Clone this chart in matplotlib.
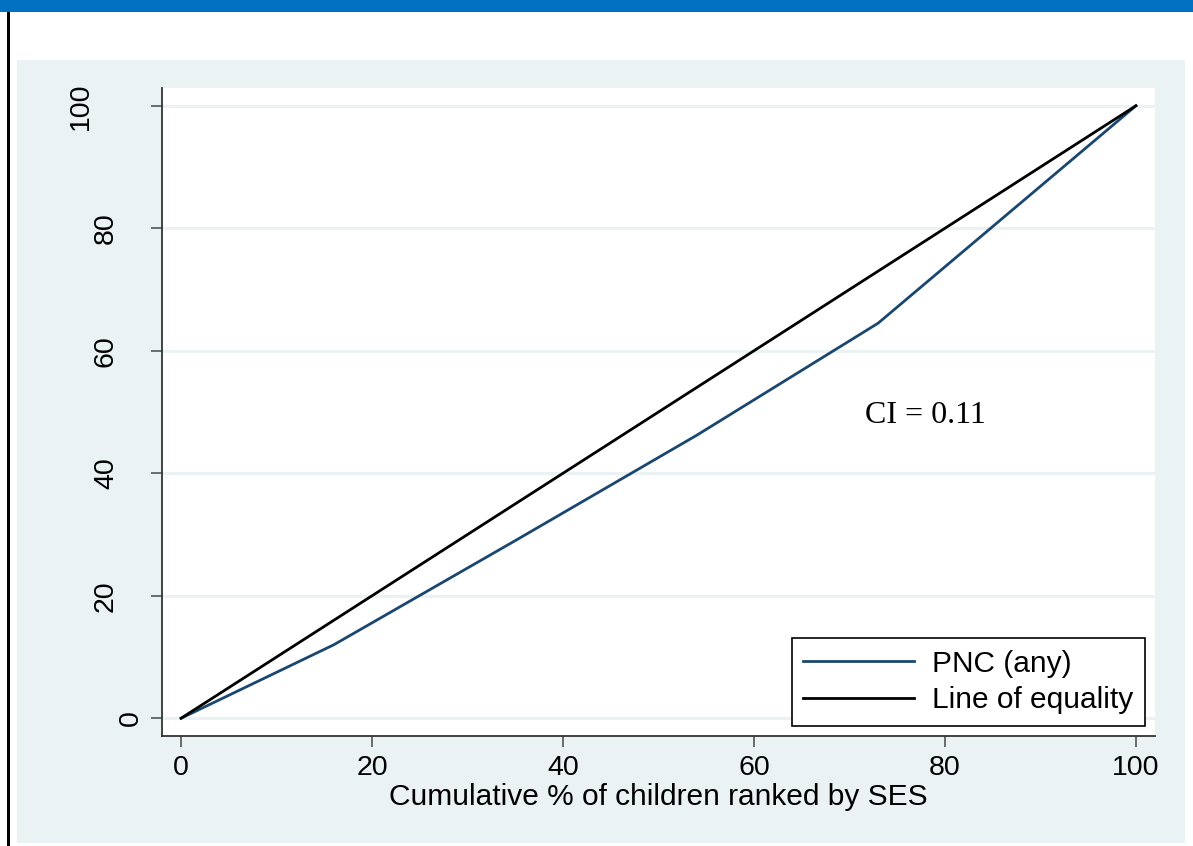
import matplotlib
matplotlib.use("Agg")
import matplotlib.pyplot as plt
from matplotlib.patches import Rectangle

# Data
cum_children = [0, 16, 35, 54, 73, 100]
pnc_any = [0, 12, 29, 46.2, 64.5, 100]
equality = [0, 100]
x_ticks = [0, 20, 40, 60, 80, 100]
y_ticks = [0, 20, 40, 60, 80, 100]
ci_text = "CI = 0.11"

W, H = 1193, 846
fig = plt.figure(figsize=(W / 100, H / 100), dpi=100)
fig.patch.set_facecolor("white")
plt.rcParams["font.family"] = ["Liberation Sans", "DejaVu Sans"]

panel_col = "#EAF2F3"
# decorative frame elements (figure coordinates)
fig.add_artist(Rectangle((0, 1 - 12 / H), 1, 12 / H, transform=fig.transFigure,
                         facecolor="#0070C0", edgecolor="none", zorder=0))
fig.add_artist(Rectangle((7 / W, 0), 2.5 / W, 1 - 12 / H, transform=fig.transFigure,
                         facecolor="black", edgecolor="none", zorder=0))
fig.add_artist(Rectangle((17 / W, (H - 843) / H), (1185 - 17) / W, (843 - 60) / H,
                         transform=fig.transFigure, facecolor=panel_col,
                         edgecolor="none", zorder=0))

L, R, T, B = 162, 1155, 88, 736
ax = fig.add_axes([L / W, (H - B) / H, (R - L) / W, (B - T) / H])
ax.set_facecolor("white")

fs = 20.5

ax.plot(cum_children, pnc_any, color="#1A476F", lw=2.0, label="PNC (any)", zorder=3,
        solid_joinstyle="round")
ax.plot(equality, equality, color="black", lw=2.0, label="Line of equality", zorder=3)

ax.set_xlim(-2, 102)
ax.set_ylim(-2.9, 102.9)
ax.set_xticks(x_ticks)
ax.set_yticks(y_ticks)
ax.set_xticklabels([str(v) for v in x_ticks], fontsize=fs)
ylabels = [str(v) for v in y_ticks]
ax.set_yticklabels(ylabels, fontsize=fs, rotation=90, va="center")
ax.tick_params(axis="both", direction="out", length=8, width=1.2, color="#555555")
ax.tick_params(axis="x", pad=6)

ax.grid(axis="y", color=panel_col, lw=2.2, zorder=1)
ax.set_axisbelow(True)
for s in ["top", "right"]:
    ax.spines[s].set_visible(False)
for s in ["left", "bottom"]:
    ax.spines[s].set_color("#333333")
    ax.spines[s].set_linewidth(1.3)

ax.set_xlabel("Cumulative % of children ranked by SES", fontsize=21.5, labelpad=1)

ax.text(71.6, 49.5, ci_text, fontsize=23, family="Liberation Serif", va="center", ha="left")

leg = ax.legend(loc="lower right", bbox_to_anchor=(0.990, 0.0154), borderaxespad=0,
                fontsize=21.5, handlelength=3.7, handletextpad=0.6, labelspacing=0.28,
                frameon=True, fancybox=False, borderpad=0.4)
leg.get_frame().set_edgecolor("black")
leg.get_frame().set_linewidth(1.2)
leg.get_frame().set_alpha(1)

# Stata-style placement of rotated y labels: offset grows with label length
for tick, lab in zip(ax.yaxis.get_major_ticks(), ylabels):
    tick.set_pad(5 + (len(lab) - 1) * 18)

fig.savefig("out.png", dpi=100, facecolor=fig.get_facecolor())
